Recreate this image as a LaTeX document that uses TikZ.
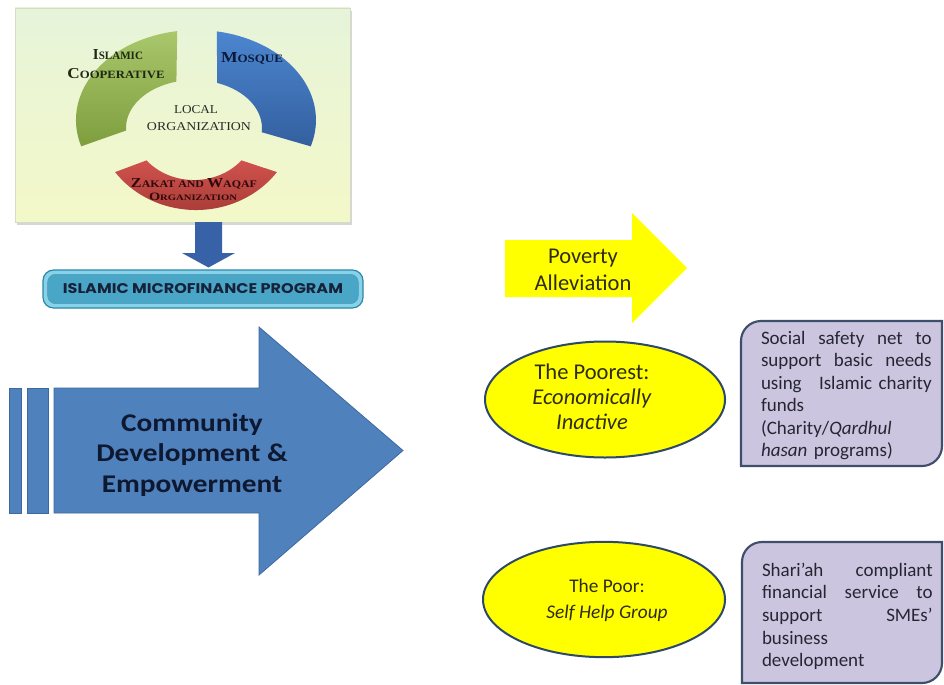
\documentclass[tikz,border=0pt]{standalone}
\usepackage{fontspec}
\setmainfont{Carlito}
\newfontfamily\cbfont[FakeStretch=1.15]{Carlito}
\newfontfamily\trfont{Liberation Serif}
\newfontfamily\pfont{Poppins}
\usetikzlibrary{shapes.geometric}
\definecolor{boxTop}{HTML}{E7F4DA}
\definecolor{boxBot}{HTML}{F3F8C8}
\definecolor{boxEdge}{HTML}{D3DCC4}
\definecolor{gTop}{HTML}{A9C76B}
\definecolor{gBot}{HTML}{7E9E3E}
\definecolor{bTop}{HTML}{4C86D0}
\definecolor{bBot}{HTML}{335F9F}
\definecolor{rTop}{HTML}{D0524D}
\definecolor{rBot}{HTML}{A93C38}
\definecolor{grnTxt}{HTML}{1E2812}
\definecolor{bluTxt}{HTML}{0C1A3A}
\definecolor{redTxt}{HTML}{2E0A0A}
\definecolor{midTxt}{HTML}{2A2A2A}
\definecolor{downBlue}{HTML}{3862A8}
\definecolor{mfLight}{HTML}{86D2E8}
\definecolor{mfFill}{HTML}{4AA6C7}
\definecolor{mfDark}{HTML}{2F86A8}
\definecolor{mfTxt}{HTML}{17213A}
\definecolor{arrBlue}{HTML}{4F81BD}
\definecolor{arrEdge}{HTML}{3D6A9E}
\definecolor{cdeTxt}{HTML}{0E1830}
\definecolor{yel}{HTML}{FFFF00}
\definecolor{yTxt}{HTML}{2E2C18}
\definecolor{ellEdge}{HTML}{2E4868}
\definecolor{lav}{HTML}{CBC5DF}
\definecolor{lavEdge}{HTML}{3F4F6B}
\definecolor{bTxt}{HTML}{262633}
\newcommand{\bsm}[2]{{\fontsize{13pt}{13pt}\selectfont #1}{\fontsize{9.6pt}{9.6pt}\selectfont #2}}
\newcommand{\jline}[1]{\leavevmode\hbox to 128pt{#1}}
\begin{document}
\begin{tikzpicture}[x=0.75pt,y=-0.75pt,
  lbl/.style={inner sep=0pt, outer sep=0pt},
  ringlbl/.style={lbl, font=\trfont\bfseries},
  ytext/.style={lbl, align=center, text=yTxt},
  boxtext/.style={lbl, anchor=north west, text width=128pt, align=left,
    font=\fontsize{14.25pt}{16.9pt}\selectfont, text=bTxt},
  lavbox/.style={fill=lav, draw=lavEdge, line width=1.6pt},
  yellipse/.style={ellipse, draw=ellEdge, line width=1.5pt, fill=yel, inner sep=0pt}]
\useasboundingbox (0,0) rectangle (944,684);
\fill[white] (0,0) rectangle (944,684);

% ---------- local organization panel ----------
\fill[black!16] (17,11) rectangle (352,225);
\node[lbl, draw=boxEdge, top color=boxTop, bottom color=boxBot,
      minimum width=251.25pt, minimum height=160.5pt] (orgbox) at (182.5,115) {};

% ring segments
\shade[top color=gTop, bottom color=gBot]
  (177.2,31.1) arc[start angle=261, end angle=163, x radius=120, y radius=90]
  -- (126.1,130.5) arc[start angle=177, end angle=255, x radius=68, y radius=48] -- cycle;
\shade[top color=bTop, bottom color=bBot]
  (216.8,31.4) arc[start angle=280, end angle=377, x radius=120, y radius=90]
  -- (261.7,132.2) arc[start angle=365, end angle=290, x radius=68, y radius=48] -- cycle;
\shade[top color=rTop, bottom color=rBot]
  (276.9,172.1) arc[start angle=36, end angle=144, x radius=100, y radius=92]
  -- (146.5,160.4) arc[start angle=140, end angle=40, x radius=62, y radius=55] -- cycle;

\node[ringlbl, text=grnTxt] (isl) at (118,55) {\resizebox{37.5pt}{7.5pt}{\bsm{I}{SLAMIC}}};
\node[ringlbl, text=grnTxt] (coop) at (116,74) {\resizebox{72.75pt}{7.5pt}{\bsm{C}{OOPERATIVE}}};
\node[ringlbl, text=bluTxt] (mosque) at (252,58) {\resizebox{46.5pt}{7.5pt}{\bsm{M}{OSQUE}}};
\node[lbl, font=\trfont, text=midTxt] (local) at (196,110) {\resizebox{33pt}{6pt}{LOCAL}};
\node[lbl, font=\trfont, text=midTxt] (orgc) at (199,127) {\resizebox{78pt}{6pt}{ORGANIZATION}};
\node[ringlbl, text=redTxt] (zakat) at (194,184) {\resizebox{94.5pt}{6.75pt}{\bsm{Z}{AKAT AND }\bsm{W}{AQAF}}};
\node[ringlbl, text=redTxt] (orgr) at (193,197) {\resizebox{66pt}{5.6pt}{\bsm{O}{RGANIZATION}}};

% down arrow
\fill[downBlue] (195,222) -- (222,222) -- (222,253) -- (235,253) -- (208.5,267.5)
  -- (182,253) -- (195,253) -- cycle;

% microfinance program box
\node[lbl, draw=mfDark, line width=0.9pt, fill=mfLight, rounded corners=8pt,
      minimum width=240pt, minimum height=28.5pt] (mf) at (203,289) {};
\node[lbl, draw=mfDark!85, line width=0.4pt, fill=mfFill, rounded corners=6pt,
      minimum width=233pt, minimum height=22pt, text=mfTxt] (mfin) at (mf.center)
  {\resizebox{210pt}{7.5pt}{\pfont\bfseries ISLAMIC MICROFINANCE PROGRAM}};

% community development arrow
\filldraw[fill=arrBlue, draw=arrEdge, line width=0.6pt] (9,388) rectangle (21,513);
\filldraw[fill=arrBlue, draw=arrEdge, line width=0.6pt] (27,388) rectangle (48,513);
\filldraw[fill=arrBlue, draw=arrEdge, line width=0.6pt]
  (54,388) -- (259,388) -- (259,327) -- (403,450.5) -- (259,575) -- (259,513) -- (54,513) -- cycle;
\node[lbl, align=center, text=cdeTxt,
      font=\cbfont\bfseries\fontsize{19.1pt}{22.9pt}\selectfont] (cde) at (192,455)
  {Community\\Development \&\\Empowerment};

% poverty alleviation arrow
\fill[yel] (505,240) -- (632,240) -- (632,213) -- (687,268) -- (632,323) -- (632,297) -- (505,297) -- cycle;
\node[ytext, font=\fontsize{16.9pt}{20.25pt}\selectfont] (pa) at (583,270) {Poverty\\Alleviation};

% ellipses
\node[yellipse, minimum width=180pt, minimum height=87pt] (e1) at (605,399.5) {};
\node[ytext, font=\fontsize{16.9pt}{18.75pt}\selectfont] (e1t) at (592,397)
  {The Poorest:\\\textit{Economically}\\\textit{Inactive}};
\node[yellipse, minimum width=181.5pt, minimum height=86.5pt] (e2) at (604,599.5) {};
\node[ytext, font=\fontsize{14.5pt}{19.5pt}\selectfont] (e2t) at (607,600)
  {The Poor:\\\textit{Self Help Group}};

% lavender boxes
\draw[lavbox] (741,466) -- (741,341) arc[start angle=180, end angle=270, radius=20]
  -- (942,321) -- (942,446) arc[start angle=0, end angle=90, radius=20] -- cycle;
\node[boxtext] (b1t) at (761,331)
  {\jline{Social\hfill safety\hfill net\hfill to}\\
   \jline{support\hfill basic\hfill needs}\\
   \jline{using\hfill Islamic charity}\\
   funds\\
   (Charity/\textit{Qardhul}\\
   \textit{hasan} programs)};

\draw[lavbox] (742,683) -- (742,562) arc[start angle=180, end angle=270, radius=20]
  -- (942,542) -- (942,663) arc[start angle=0, end angle=90, radius=20] -- cycle;
\node[boxtext] (b2t) at (762,563)
  {\jline{Shari’ah\hfill compliant}\\
   \jline{financial\hfill service\hfill to}\\
   \jline{support\hfill SMEs’}\\
   business\\
   development};
\end{tikzpicture}
\end{document}
